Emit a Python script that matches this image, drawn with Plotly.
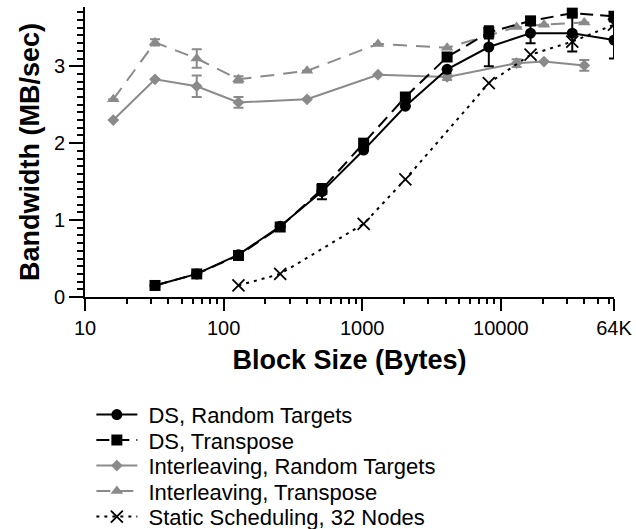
import math
import plotly.graph_objects as go

# Block sizes (bytes)
ds_x = [32, 64, 128, 256, 512, 1024, 2048, 4096, 8192, 16384, 32768, 65536]
il_x = [16, 32, 64, 128, 400, 1300, 4096, 13000, 20480, 40000]
ss_x = [128, 256, 1024, 2048, 8192, 16384, 32768, 65536]

# Bandwidth (MB/sec)
ds_random = [0.15, 0.30, 0.55, 0.92, 1.37, 1.91, 2.48, 2.96, 3.25, 3.43, 3.43, 3.34]
ds_random_err = [None, None, None, None, 0.10, None, None, None, 0.25, 0.13, 0.24, 0.24]
ds_transpose = [0.15, 0.30, 0.54, 0.91, 1.40, 2.00, 2.60, 3.12, 3.44, 3.59, 3.69, 3.65]
ds_transpose_err = [None, None, None, None, None, None, None, None, 0.08, None, None, None]
il_random = [2.30, 2.83, 2.74, 2.53, 2.57, 2.89, 2.86, 3.04, 3.06, 3.01]
il_random_err = [None, None, 0.14, 0.07, None, None, 0.04, 0.05, None, 0.07]
il_transpose = [2.57, 3.31, 3.10, 2.83, 2.94, 3.29, 3.24, 3.51, 3.54, 3.57]
il_transpose_err = [None, 0.04, 0.12, 0.04, None, None, None, None, None, None]
ss_32 = [0.15, 0.30, 0.95, 1.53, 2.78, 3.15, 3.32, 3.54]

names = [
    "DS, Random Targets",
    "DS, Transpose",
    "Interleaving, Random Targets",
    "Interleaving, Transpose",
    "Static Scheduling, 32 Nodes",
]

x_tickvals = [10, 100, 1000, 10000, 65536]
x_ticktext = ["10", "100", "1000", "10000", "64K"]
y_tickvals = [0, 1, 2, 3]

BLACK = "#000000"
GRAY = "#8a8a8a"
FONT = "Liberation Sans, Arial, Helvetica, sans-serif"

# One legend box per entry so the rows sit at a fixed pitch
legend_rows_y = [-0.406, -0.494, -0.582, -0.670, -0.758]


def err(vals, color):
    return dict(type="data", array=vals, visible=True, color=color,
                thickness=2, width=5)


fig = go.Figure()

fig.add_trace(go.Scatter(
    x=il_x, y=il_random, name=" " + names[2], legend="legend3",
    mode="lines+markers",
    line=dict(color=GRAY, width=2),
    marker=dict(symbol="diamond", size=9, color=GRAY),
    error_y=err(il_random_err, GRAY)))

fig.add_trace(go.Scatter(
    x=il_x, y=il_transpose, name=" " + names[3], legend="legend4",
    mode="lines+markers",
    line=dict(color=GRAY, width=2, dash="14px,9px"),
    marker=dict(symbol="triangle-up", size=11, color=GRAY),
    error_y=err(il_transpose_err, GRAY)))

fig.add_trace(go.Scatter(
    x=ss_x, y=ss_32, name=" " + names[4], legend="legend5",
    mode="lines+markers",
    line=dict(color=BLACK, width=2, dash="3px,5px"),
    marker=dict(symbol="x-thin", size=12, color=BLACK,
                line=dict(color=BLACK, width=1.8))))

fig.add_trace(go.Scatter(
    x=ds_x, y=ds_transpose, name=" " + names[1], legend="legend2",
    mode="lines+markers",
    line=dict(color=BLACK, width=2, dash="13px,7px"),
    marker=dict(symbol="square", size=11, color=BLACK),
    error_y=err(ds_transpose_err, BLACK)))

fig.add_trace(go.Scatter(
    x=ds_x, y=ds_random, name=" " + names[0], legend="legend",
    mode="lines+markers",
    line=dict(color=BLACK, width=2),
    marker=dict(symbol="circle", size=11, color=BLACK),
    error_y=err(ds_random_err, BLACK)))

# Minor ticks: 2..9 within each decade up to 64K
x_minor = [m * 10 ** k for k in range(1, 5) for m in range(2, 10) if m * 10 ** k < 65536]


def legend_box(yv):
    return dict(
        x=0.012, y=yv, xanchor="left", yanchor="middle",
        font=dict(size=22, family=FONT, color=BLACK),
        bgcolor="rgba(0,0,0,0)", itemwidth=41,
    )


fig.update_layout(
    width=636, height=529,
    margin=dict(l=85, r=22, t=7, b=232, autoexpand=False),
    paper_bgcolor="white", plot_bgcolor="white",
    font=dict(family=FONT, color=BLACK),
    showlegend=True,
    legend=legend_box(legend_rows_y[0]),
    legend2=legend_box(legend_rows_y[1]),
    legend3=legend_box(legend_rows_y[2]),
    legend4=legend_box(legend_rows_y[3]),
    legend5=legend_box(legend_rows_y[4]),
    xaxis=dict(
        type="log", range=[1, math.log10(65536)],
        tickmode="array", tickvals=x_tickvals, ticktext=x_ticktext,
        ticks="outside", ticklen=12, tickwidth=2, tickcolor=BLACK,
        showline=True, linewidth=2, linecolor=BLACK,
        showgrid=False, zeroline=False,
        tickfont=dict(size=20, family=FONT, color=BLACK),
        minor=dict(tickmode="array", tickvals=x_minor, ticks="outside",
                   ticklen=5, tickwidth=1.5, tickcolor=BLACK, showgrid=False),
        title=dict(text="<b>Block Size (Bytes)</b>",
                   font=dict(size=27, family=FONT, color=BLACK), standoff=12),
    ),
    yaxis=dict(
        range=[0, 3.77],
        tickmode="array", tickvals=y_tickvals,
        ticks="outside", ticklen=14, tickwidth=2, tickcolor=BLACK,
        showline=True, linewidth=2, linecolor=BLACK,
        showgrid=False, zeroline=False,
        tickfont=dict(size=20, family=FONT, color=BLACK),
        minor=dict(dtick=0.1, tick0=0, ticks="outside", ticklen=6,
                   tickwidth=1.5, tickcolor=BLACK, showgrid=False),
        title=dict(text="<b>Bandwidth (MB/sec)</b>",
                   font=dict(size=27, family=FONT, color=BLACK), standoff=6),
    ),
)

fig.write_html("out.html")
